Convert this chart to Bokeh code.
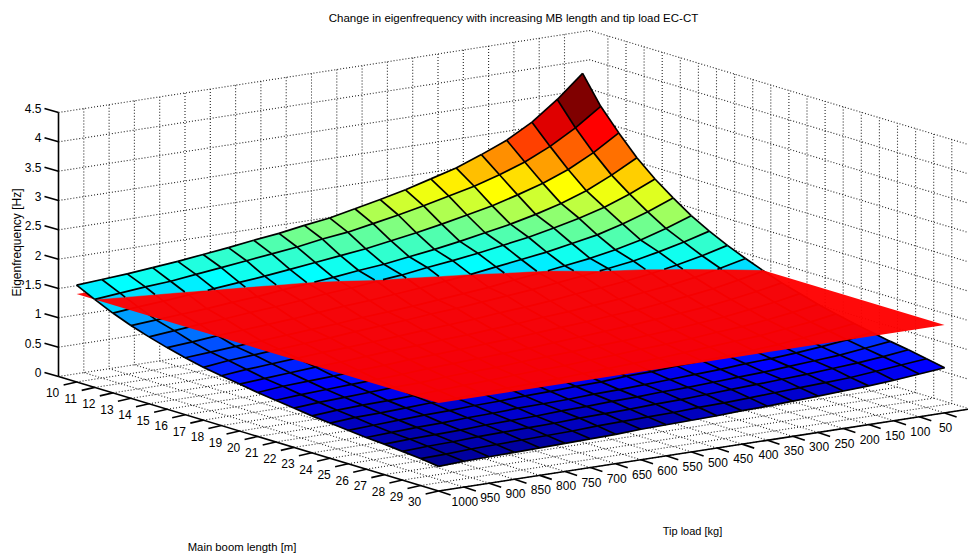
from bokeh.plotting import figure
from bokeh.models import Range1d, ColumnDataSource
from bokeh.core.properties import value
from bokeh.embed import file_html
from bokeh.resources import INLINE
import math

title_text = "Change in eigenfrequency with increasing MB length and tip load EC-CT"
z_label = "Eigenfrequency [Hz]"
boom_label = "Main boom length [m]"
load_label = "Tip load [kg]"

boom_lengths = list(range(10, 31))
tip_load_ticks = list(range(1000, 0, -50))
z_ticks = [0, 0.5, 1, 1.5, 2, 2.5, 3, 3.5, 4, 4.5]
z_tick_labels = ["0", "0.5", "1", "1.5", "2", "2.5", "3", "3.5", "4", "4.5"]
threshold_plane = 1.5

# Eigenfrequency: one row per boom length, one column per load step
L10 = [1.65,1.68,1.71,1.75,1.79,1.84,1.89,1.95,2.00,2.07,2.13,2.22,2.31,2.41,2.53,2.65,2.81,2.99,3.23,3.55,3.93]
L11 = [1.50,1.54,1.58,1.61,1.66,1.71,1.76,1.81,1.86,1.93,1.98,2.06,2.14,2.23,2.33,2.43,2.56,2.71,2.91,3.16,3.46]
L12 = [1.36,1.40,1.43,1.47,1.51,1.55,1.59,1.64,1.69,1.74,1.79,1.86,1.93,2.01,2.10,2.19,2.31,2.44,2.61,2.83,3.10]
L13 = [1.24,1.27,1.30,1.33,1.37,1.40,1.45,1.49,1.53,1.58,1.62,1.68,1.74,1.81,1.89,1.97,2.07,2.19,2.34,2.54,2.77]
L14 = [1.14,1.18,1.22,1.25,1.29,1.32,1.36,1.41,1.44,1.49,1.53,1.59,1.64,1.70,1.77,1.84,1.93,2.03,2.15,2.31,2.50]
L15 = [1.05,1.08,1.12,1.15,1.18,1.21,1.25,1.29,1.32,1.36,1.40,1.45,1.50,1.56,1.62,1.68,1.76,1.84,1.96,2.10,2.27]
L16 = [.97,1.00,1.03,1.06,1.09,1.12,1.15,1.19,1.22,1.25,1.29,1.33,1.37,1.43,1.48,1.54,1.60,1.68,1.78,1.91,2.06]
L17 = [.90,.95,.98,1.01,1.04,1.07,1.11,1.14,1.17,1.21,1.24,1.28,1.32,1.36,1.41,1.46,1.52,1.58,1.67,1.77,1.89]
L18 = [.85,.89,.92,.95,.98,1.00,1.03,1.06,1.09,1.12,1.15,1.19,1.22,1.26,1.31,1.35,1.40,1.46,1.54,1.63,1.74]
L19 = [.80,.83,.86,.89,.91,.94,.97,.99,1.02,1.04,1.07,1.10,1.14,1.17,1.21,1.25,1.30,1.35,1.42,1.51,1.61]
L20 = [.75,.79,.81,.83,.86,.88,.91,.93,.95,.98,1.00,1.03,1.06,1.09,1.13,1.16,1.21,1.26,1.32,1.40,1.49]
L21 = [.71,.74,.76,.78,.80,.82,.85,.87,.89,.91,.93,.96,.99,1.02,1.05,1.09,1.13,1.17,1.23,1.30,1.38]
L22 = [.67,.70,.72,.74,.76,.77,.80,.82,.83,.86,.88,.90,.93,.95,.98,1.01,1.05,1.09,1.15,1.21,1.29]
L23 = [.63,.66,.68,.69,.71,.73,.75,.77,.79,.81,.82,.85,.87,.90,.92,.95,.99,1.02,1.07,1.13,1.20]
L24 = [.60,.63,.64,.66,.68,.69,.71,.73,.74,.76,.78,.80,.82,.84,.87,.90,.93,.96,1.01,1.06,1.13]
L25 = [.57,.59,.61,.63,.64,.66,.67,.69,.70,.72,.73,.76,.77,.80,.82,.84,.87,.90,.95,1.00,1.06]
L26 = [.54,.56,.58,.59,.61,.62,.64,.65,.66,.68,.69,.71,.73,.75,.77,.80,.82,.85,.89,.94,1.00]
L27 = [.52,.54,.55,.56,.58,.59,.60,.62,.63,.65,.66,.68,.69,.71,.73,.75,.78,.81,.84,.89,.94]
L28 = [.49,.51,.52,.54,.55,.56,.57,.59,.60,.61,.63,.64,.66,.68,.70,.72,.74,.77,.80,.84,.89]
L29 = [.46,.47,.49,.50,.51,.52,.53,.55,.56,.57,.58,.60,.61,.63,.65,.67,.69,.71,.75,.79,.83]
L30 = [.42,.44,.45,.46,.47,.48,.49,.50,.52,.53,.54,.55,.57,.58,.60,.62,.64,.66,.69,.73,.77]
freq = [L10,L11,L12,L13,L14,L15,L16,L17,L18,L19,L20,L21,L22,L23,L24,L25,L26,L27,L28,L29,L30]

# Orthographic view: screen position from box coordinates (i along boom, v along load, z up)
X0, Y0 = 58.0, 376.0
DI, DV = 18.1, 25.3
SI, SV = 5.452, 3.905
ZS = 264.0 / 4.5
I_MAX, V_MAX = 21, 21
Z_MAX = 4.5

def sx(i, v):
    return X0 + DI * i + DV * v

def sy(i, v, z):
    return Y0 + SI * i - SV * v - ZS * z

def jet(val, lo, hi):
    t = (val - lo) / (hi - lo)
    t = (min(63, max(0, math.ceil(t * 64) - 1)) + 1) / 64
    c = lambda a: max(0.0, min(1.0, 1.5 - abs(4 * t - a)))
    return "#%02x%02x%02x" % (round(c(3) * 255), round(c(2) * 255), round(c(1) * 255))

def clip(poly, keep_above, level):
    out = []
    n = len(poly)
    for k in range(n):
        a, b = poly[k], poly[(k + 1) % n]
        ina = (a[2] >= level) == keep_above
        inb = (b[2] >= level) == keep_above
        if ina:
            out.append(a)
        if ina != inb:
            f = (level - a[2]) / (b[2] - a[2])
            out.append((a[0] + f * (b[0] - a[0]), a[1] + f * (b[1] - a[1]), level))
    return out

p = figure(width=968, height=553, x_range=Range1d(0, 968), y_range=Range1d(553, 0),
           toolbar_location=None, output_backend="svg", min_border=0,
           x_axis_type=None, y_axis_type=None, outline_line_color=None,
           background_fill_color="white", border_fill_color="white")
p.grid.visible = False

# dotted grid on back walls and floor
gx, gy = [], []
for z in z_ticks:
    gx.append([sx(0, 0), sx(0, V_MAX), sx(I_MAX, V_MAX)])
    gy.append([sy(0, 0, z), sy(0, V_MAX, z), sy(I_MAX, V_MAX, z)])
for v in range(1, V_MAX):
    gx.append([sx(I_MAX, v), sx(0, v), sx(0, v)])
    gy.append([sy(I_MAX, v, 0), sy(0, v, 0), sy(0, v, Z_MAX)])
for i in range(1, I_MAX + 1):
    gx.append([sx(i, 0), sx(i, V_MAX), sx(i, V_MAX)])
    gy.append([sy(i, 0, 0), sy(i, V_MAX, 0), sy(i, V_MAX, Z_MAX)])
p.multi_line(gx, gy, line_color="#222222", line_width=1.1, line_dash="1 2")

# axes
ax_x = [[sx(0, 0), sx(0, 0)], [sx(0, 0), sx(I_MAX, 0)], [sx(I_MAX, 0), sx(I_MAX, V_MAX)]]
ax_y = [[sy(0, 0, 0), sy(0, 0, Z_MAX)], [sy(0, 0, 0), sy(I_MAX, 0, 0)], [sy(I_MAX, 0, 0), sy(I_MAX, V_MAX, 0)]]
for z in z_ticks:
    ax_x.append([sx(0, 0), sx(0, 0) - 14])
    ax_y.append([sy(0, 0, z), sy(0, 0, z) - 4])
for k in range(len(boom_lengths)):
    i = k + 1
    ax_x.append([sx(i, 0), sx(i, 0) - 13])
    ax_y.append([sy(i, 0, 0), sy(i, 0, 0) + 3])
for v in range(0, len(tip_load_ticks) + 1):
    ax_x.append([sx(I_MAX, v), sx(I_MAX, v) + 12])
    ax_y.append([sy(I_MAX, v, 0), sy(I_MAX, v, 0) + 4])
p.multi_line(ax_x, ax_y, line_color="black", line_width=1.6)

# surface: split at the plane, lower part first
def surface_layer(keep_above):
    xs, ys, cols = [], [], []
    lo = min(min(r) for r in freq)
    hi = max(max(r) for r in freq)
    order = sorted(((i, v) for i in range(20) for v in range(20)), key=lambda a: a[0] - a[1])
    for a, v in order:
        i = a + 1
        quad = [(i, v, freq[a][v]), (i + 1, v, freq[a + 1][v]),
                (i + 1, v + 1, freq[a + 1][v + 1]), (i, v + 1, freq[a][v + 1])]
        poly = clip(quad, keep_above, threshold_plane)
        if len(poly) < 3:
            continue
        xs.append([sx(q[0], q[1]) for q in poly])
        ys.append([sy(q[0], q[1], q[2]) for q in poly])
        cols.append(jet(freq[a][v + 1], lo, hi))
    src = ColumnDataSource(dict(xs=xs, ys=ys, c=cols))
    p.patches("xs", "ys", source=src, fill_color="c", line_color="c", line_width=0.4)
    lx, ly = [], []
    def seg(n1, n2):
        ina = (n1[2] >= threshold_plane) == keep_above
        inb = (n2[2] >= threshold_plane) == keep_above
        if ina and inb:
            pts = [n1, n2]
        elif ina or inb:
            f = (threshold_plane - n1[2]) / (n2[2] - n1[2])
            m = (n1[0] + f * (n2[0] - n1[0]), n1[1] + f * (n2[1] - n1[1]), threshold_plane)
            pts = [n1, m] if ina else [m, n2]
        else:
            return
        lx.append([sx(q[0], q[1]) for q in pts])
        ly.append([sy(q[0], q[1], q[2]) for q in pts])
    for a in range(21):
        for v in range(20):
            seg((a + 1, v, freq[a][v]), (a + 1, v + 1, freq[a][v + 1]))
    for a in range(20):
        for v in range(21):
            seg((a + 1, v, freq[a][v]), (a + 2, v, freq[a + 1][v]))
    p.multi_line(lx, ly, line_color="black", line_width=1.7)

surface_layer(False)

# translucent red plane
px_ = [sx(1, 0), sx(21, 0), sx(21, 20), sx(1, 20)]
py_ = [sy(1, 0, threshold_plane), sy(21, 0, threshold_plane), sy(21, 20, threshold_plane), sy(1, 20, threshold_plane)]
p.patch(px_, py_, fill_color="#ff0000", fill_alpha=0.96, line_color=None)

surface_layer(True)

FONT = value("Liberation Sans")

def labels(xs, ys, txt, size, align="center", angle=0.0):
    p.text(xs, ys, text=txt, text_font=FONT, text_font_size=value(size), text_color="black",
           text_align=align, text_baseline="middle", angle=angle)

labels([sx(0, 0) - 17] * len(z_ticks), [sy(0, 0, z) - 4 for z in z_ticks], z_tick_labels, "12px", "right")
labels([sx(k + 1, 0) - 24 for k in range(len(boom_lengths))],
       [sy(k + 1, 0, 0) + 11 for k in range(len(boom_lengths))],
       [str(b) for b in boom_lengths], "12px")
labels([sx(I_MAX, k + 1) + 1 for k in range(len(tip_load_ticks))],
       [sy(I_MAX, k + 1, 0) + 14.5 for k in range(len(tip_load_ticks))],
       [str(t) for t in tip_load_ticks], "12px")
labels([513], [17], [title_text], "11.5px")
labels([241.5], [546], [boom_label], "11.3px")
labels([692], [530], [load_label], "11px")
labels([16], [242], [z_label], "12px", "center", math.pi / 2)

open("out.html", "w").write(file_html(p, INLINE))
